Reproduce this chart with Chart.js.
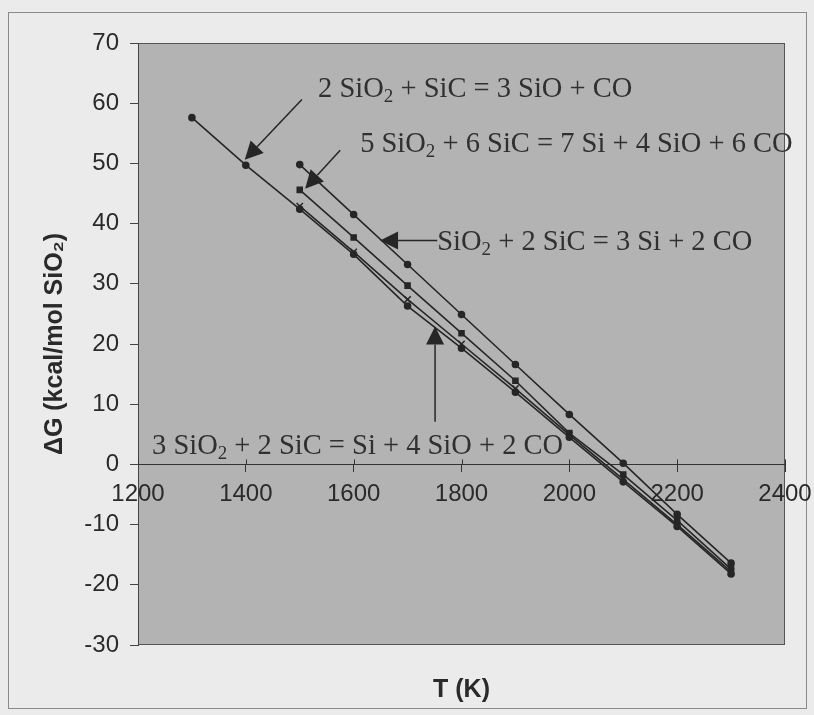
<!DOCTYPE html>
<html>
<head>
<meta charset="utf-8">
<script src="https://cdn.jsdelivr.net/npm/chart.js@4/dist/chart.umd.min.js"></script>
<style>
  html, body { margin: 0; padding: 0; background: #e9e9e9; }
  #wrap { width: 814px; height: 715px; position: relative; }
</style>
</head>
<body>
<div id="wrap"><canvas id="c" width="814" height="715"></canvas></div>
<script>
// ---------------- data ----------------
const temperatures = [1300, 1400, 1500, 1600, 1700, 1800, 1900, 2000, 2100, 2200, 2300];

// ΔG (kcal/mol SiO2) for each reaction
const dG_SiO_CO      = [57.6, 49.7, 42.4, 34.9, 26.3, 19.3, 12.0, 4.5, -2.9, -10.3, -18.2]; // 2 SiO2 + SiC = 3 SiO + CO
const dG_Si_4SiO     = [null, null, 42.9, 35.3, 27.4, 20.0, 12.6, 4.9, -2.5, -10.0, -17.8]; // 3 SiO2 + 2 SiC = Si + 4 SiO + 2 CO
const dG_7Si_4SiO    = [null, null, 45.6, 37.7, 29.7, 21.8, 13.9, 5.2, -1.7, -9.3, -17.4];  // 5 SiO2 + 6 SiC = 7 Si + 4 SiO + 6 CO
const dG_3Si_2CO     = [null, null, 49.8, 41.5, 33.2, 24.9, 16.6, 8.3, 0.2, -8.3, -16.4];   // SiO2 + 2 SiC = 3 Si + 2 CO

const reactionLabels = [
  '2 SiO₂ + SiC = 3 SiO + CO',
  '5 SiO₂ + 6 SiC = 7 Si + 4 SiO + 6 CO',
  'SiO₂ + 2 SiC = 3 Si + 2 CO',
  '3 SiO₂ + 2 SiC = Si + 4 SiO + 2 CO'
];

const xTicks = [1200, 1400, 1600, 1800, 2000, 2200, 2400];
const yTicks = [-30, -20, -10, 0, 10, 20, 30, 40, 50, 60, 70];

const xTitle = 'T (K)';
const yTitle = 'ΔG (kcal/mol SiO₂)';

// ---------------- annotation placement (data coordinates) ----------------
const annotationPlacement = [
  { label: 0, textAt: [1534, 62.3], from: [1504, 60.6], tip: [1398, 50.6] },
  { label: 1, textAt: [1612, 53.2], from: [1575, 52.2], tip: [1510, 45.8] },
  { label: 2, textAt: [1755, 36.8], from: [1755, 37.2], tip: [1649, 37.2] },
  { label: 3, textAt: [1226, 3.0],  from: [1751, 7.1],  tip: [1751, 22.9] }
];

function toPoints(vals) {
  const pts = [];
  temperatures.forEach((t, i) => { if (vals[i] !== null) pts.push({ x: t, y: vals[i] }); });
  return pts;
}

const INK = '#262626';
const TEXT = '#2a2a2a';
const SANS = '"Liberation Sans", Arial, sans-serif';

const bgPlugin = {
  id: 'bg',
  beforeDraw(chart) {
    const { ctx, chartArea: a } = chart;
    ctx.save();
    ctx.fillStyle = '#ebebeb';
    ctx.fillRect(0, 0, chart.width, chart.height);
    ctx.strokeStyle = '#8a8a8a';
    ctx.lineWidth = 1;
    ctx.strokeRect(8.5, 12.5, 798, 696);
    ctx.fillStyle = '#b3b3b3';
    ctx.fillRect(a.left, a.top, a.right - a.left, a.bottom - a.top);
    ctx.strokeStyle = '#555555';
    ctx.strokeRect(a.left + 0.5, a.top + 0.5, a.right - a.left - 1, a.bottom - a.top - 1);
    ctx.restore();
  }
};

function drawFormula(ctx, text, x, y, size) {
  let cx = x;
  ctx.textBaseline = 'middle';
  ctx.textAlign = 'left';
  for (const part of text.split(/(₂)/)) {
    if (!part) continue;
    if (part === '₂') {
      ctx.font = Math.round(size * 0.68) + 'px "Liberation Serif", serif';
      ctx.fillText('2', cx, y + size * 0.26);
      cx += ctx.measureText('2').width;
    } else {
      ctx.font = size + 'px "Liberation Serif", serif';
      ctx.fillText(part, cx, y);
      cx += ctx.measureText(part).width;
    }
  }
}

function drawArrow(ctx, x0, y0, x1, y1) {
  const ang = Math.atan2(y1 - y0, x1 - x0);
  const len = 18, half = 9;
  const bx = x1 - len * Math.cos(ang), by = y1 - len * Math.sin(ang);
  ctx.beginPath();
  ctx.moveTo(x0, y0);
  ctx.lineTo(bx, by);
  ctx.stroke();
  ctx.beginPath();
  ctx.moveTo(x1, y1);
  ctx.lineTo(bx + half * Math.sin(ang), by - half * Math.cos(ang));
  ctx.lineTo(bx - half * Math.sin(ang), by + half * Math.cos(ang));
  ctx.closePath();
  ctx.fill();
}

const annotationPlugin = {
  id: 'annot',
  afterDraw(chart) {
    const { ctx } = chart;
    const xs = chart.scales.x, ys = chart.scales.y;
    ctx.save();
    // cross tick marks on the x axis (upper half)
    ctx.strokeStyle = '#333';
    ctx.lineWidth = 1;
    const y0 = ys.getPixelForValue(0);
    xTicks.forEach(t => {
      const px = Math.round(xs.getPixelForValue(t)) + 0.5;
      ctx.beginPath(); ctx.moveTo(px, y0 - 5); ctx.lineTo(px, y0); ctx.stroke();
    });
    ctx.fillStyle = '#303030';
    annotationPlacement.forEach(a => {
      drawFormula(ctx, reactionLabels[a.label], xs.getPixelForValue(a.textAt[0]), ys.getPixelForValue(a.textAt[1]), 28.5);
    });
    ctx.strokeStyle = INK;
    ctx.fillStyle = INK;
    ctx.lineWidth = 1.5;
    annotationPlacement.forEach(a => {
      drawArrow(ctx, xs.getPixelForValue(a.from[0]), ys.getPixelForValue(a.from[1]),
                     xs.getPixelForValue(a.tip[0]), ys.getPixelForValue(a.tip[1]));
    });
    ctx.restore();
  }
};

const lineStyle = { borderColor: INK, backgroundColor: INK, borderWidth: 1.6, pointBorderColor: INK, pointBackgroundColor: INK, tension: 0, fill: false };

new Chart(document.getElementById('c'), {
  type: 'line',
  data: {
    datasets: [
      Object.assign({ label: reactionLabels[0], data: toPoints(dG_SiO_CO), pointStyle: 'circle', pointRadius: 3 }, lineStyle),
      Object.assign({ label: reactionLabels[3], data: toPoints(dG_Si_4SiO), pointStyle: 'crossRot', pointRadius: 4.5, pointBorderWidth: 1.5 }, lineStyle),
      Object.assign({ label: reactionLabels[1], data: toPoints(dG_7Si_4SiO), pointStyle: 'rect', pointRadius: 3.5 }, lineStyle),
      Object.assign({ label: reactionLabels[2], data: toPoints(dG_3Si_2CO), pointStyle: 'circle', pointRadius: 3 }, lineStyle)
    ]
  },
  options: {
    responsive: false,
    animation: false,
    layout: { padding: { left: 0, top: 43, right: 29, bottom: 0 } },
    plugins: { legend: { display: false }, tooltip: { enabled: false } },
    scales: {
      x: {
        type: 'linear',
        position: { y: 0 },
        min: 1200, max: 2400,
        afterBuildTicks: s => { s.ticks = xTicks.map(v => ({ value: v })); },
        afterFit: s => { s.paddingLeft = 0; s.paddingRight = 0; },
        grid: { display: true, drawOnChartArea: false, drawTicks: true, tickLength: 7, color: '#333' },
        border: { display: true, color: '#333', width: 1 },
        ticks: { color: TEXT, font: { family: SANS, size: 24 }, padding: 9, maxRotation: 0, callback: v => String(v) }
      },
      x2: {
        type: 'linear',
        position: 'bottom',
        min: 1200, max: 2400,
        grid: { display: false, drawTicks: false },
        border: { display: false },
        ticks: { display: false },
        afterFit: s => { s.height = 70; s.paddingLeft = 0; s.paddingRight = 0; },
        title: { display: true, text: xTitle, color: TEXT, font: { family: SANS, size: 25, weight: 'bold' }, padding: { top: 0, bottom: 10 } }
      },
      y: {
        type: 'linear',
        position: 'left',
        min: -30, max: 70,
        afterBuildTicks: s => { s.ticks = yTicks.map(v => ({ value: v })); },
        afterFit: s => { s.width = 138; },
        grid: { display: true, drawOnChartArea: false, drawTicks: true, tickLength: 8, color: '#444' },
        border: { display: true, color: '#444', width: 1 },
        ticks: { color: TEXT, font: { family: SANS, size: 24 }, padding: 11, callback: v => String(v) },
        title: { display: true, text: yTitle, color: TEXT, font: { family: SANS, size: 25, weight: 'bold' }, padding: { top: 40, bottom: 0 } }
      }
    }
  },
  plugins: [bgPlugin, annotationPlugin]
});
</script>
</body>
</html>
